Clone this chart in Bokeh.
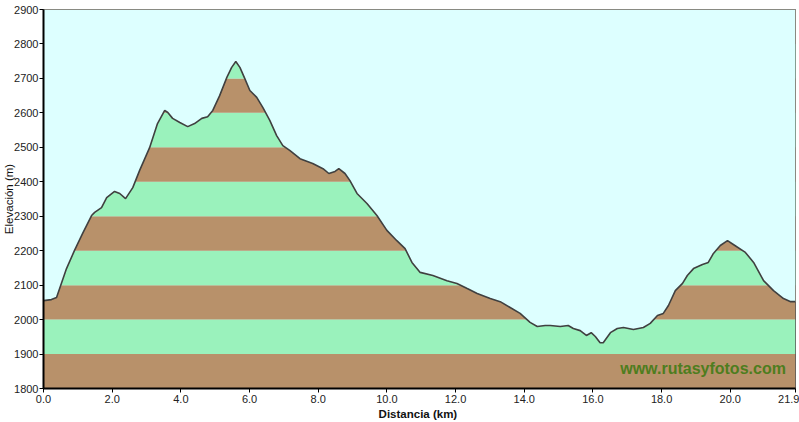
import numpy as np
from bokeh.plotting import figure
from bokeh.models import FixedTicker, Label
from bokeh.embed import file_html
from bokeh.resources import INLINE

# Distance along the route (km) and elevation (m)
distance = [0.00, 0.23, 0.38, 0.52, 0.67, 0.90, 1.14, 1.40, 1.49, 1.69, 1.84, 2.07, 2.22, 2.39,
            2.60, 2.80, 3.09, 3.32, 3.53, 3.62, 3.76, 3.97, 4.20, 4.40, 4.61, 4.78, 4.93,
            5.13, 5.34, 5.48, 5.60, 5.72, 5.86, 6.01, 6.21, 6.39, 6.59, 6.79, 6.97, 7.17,
            7.47, 7.84, 8.14, 8.31, 8.49, 8.60, 8.78, 8.92, 9.13, 9.42, 9.71, 10.00, 10.29,
            10.53, 10.73, 10.97, 11.34, 11.75, 12.04, 12.34, 12.63, 13.01, 13.30, 13.59,
            13.88, 14.17, 14.38, 14.61, 14.76, 15.05, 15.28, 15.43, 15.63, 15.81, 15.95,
            16.07, 16.21, 16.30, 16.51, 16.71, 16.89, 17.18, 17.47, 17.67, 17.88, 18.05,
            18.20, 18.40, 18.61, 18.75, 18.93, 19.19, 19.36, 19.51, 19.71, 19.92, 20.09,
            20.44, 20.68, 20.97, 21.26, 21.55, 21.76, 21.90]
elevation = [2055, 2058, 2064, 2105, 2148, 2200, 2250, 2302, 2311, 2325, 2354, 2372, 2366, 2351,
             2383, 2433, 2499, 2569, 2607, 2601, 2584, 2572, 2560, 2569, 2584, 2589, 2607,
             2650, 2703, 2732, 2749, 2732, 2700, 2665, 2645, 2615, 2578, 2534, 2505, 2491,
             2467, 2453, 2438, 2424, 2430, 2438, 2424, 2404, 2366, 2337, 2302, 2259, 2229,
             2206, 2166, 2137, 2128, 2113, 2105, 2090, 2076, 2061, 2052, 2035,
             2018, 1992, 1980, 1983, 1983, 1980, 1983, 1974, 1968, 1954, 1962,
             1951, 1933, 1933, 1962, 1974, 1977, 1971, 1977, 1989, 2012, 2018,
             2041, 2084, 2105, 2128, 2148, 2160, 2166, 2192, 2215, 2229, 2218,
             2195, 2166, 2113, 2084, 2061, 2052, 2052]

x_ticks = [0, 2, 4, 6, 8, 10, 12, 14, 16, 18, 20, 21.9]
x_tick_labels = ["0.0", "2.0", "4.0", "6.0", "8.0", "10.0", "12.0", "14.0", "16.0", "18.0", "20.0", "21.9"]
y_ticks = list(range(1800, 2901, 100))

band_colors = ["#B8916A", "#9AF2BC"]
sky_color = "#DDFFFF"
FONT = "Liberation Sans"

p = figure(width=799, height=422, output_backend="svg", toolbar_location=None,
           x_range=(0, 21.9), y_range=(1800, 2900),
           min_border_left=30, min_border_right=4, min_border_top=9, min_border_bottom=30)

p.background_fill_color = sky_color
p.border_fill_color = "white"
p.outline_line_color = "#555555"
p.outline_line_width = 1
p.xgrid.visible = False
p.ygrid.visible = False

# alternating 100 m elevation bands
lows = y_ticks[:-1]
highs = y_ticks[1:]
colors = [band_colors[i % 2] for i in range(len(lows))]
p.quad(left=0, right=21.9, bottom=lows, top=highs, fill_color=colors, line_color=None)

# sky above the profile
p.varea(x=distance, y1=elevation, y2=[2900] * len(distance), fill_color=sky_color)

# profile outline
p.line(distance, elevation, line_color="#404040", line_width=1.6)

p.add_layout(Label(x=21.62, y=1857, text="www.rutasyfotos.com", text_align="right",
                   text_baseline="middle", text_color="#4E7D1E", text_font=FONT,
                   text_font_size="16px", text_font_style="bold"))

p.xaxis.ticker = FixedTicker(ticks=x_ticks)
p.xaxis.major_label_overrides = {t: l for t, l in zip(x_ticks, x_tick_labels)}
p.yaxis.ticker = FixedTicker(ticks=y_ticks)
p.xaxis.minor_tick_line_color = None
p.yaxis.minor_tick_line_color = None
for ax in (p.xaxis, p.yaxis):
    ax.axis_line_color = "black"
    ax.axis_line_width = 2
    ax.major_tick_line_color = "black"
    ax.major_tick_line_width = 1
    ax.major_tick_out = 4
    ax.major_tick_in = 0
    ax.major_label_text_font = FONT
    ax.major_label_text_font_size = "11px"
    ax.major_label_text_color = "#222222"
    ax.axis_label_text_font = FONT
    ax.axis_label_text_color = "#111111"
    ax.axis_label_text_font_style = "normal"
p.xaxis.major_label_standoff = 2
p.yaxis.major_label_standoff = 1
p.xaxis.axis_label = "Distancia  (km)"
p.xaxis.axis_label_text_font_style = "bold"
p.xaxis.axis_label_text_font_size = "11.5px"
p.xaxis.axis_label_standoff = 2
p.yaxis.axis_label = "Elevación (m)"
p.yaxis.axis_label_text_font_size = "11.5px"
p.yaxis.axis_label_standoff = -4

open("out.html", "w").write(file_html(p, INLINE))
